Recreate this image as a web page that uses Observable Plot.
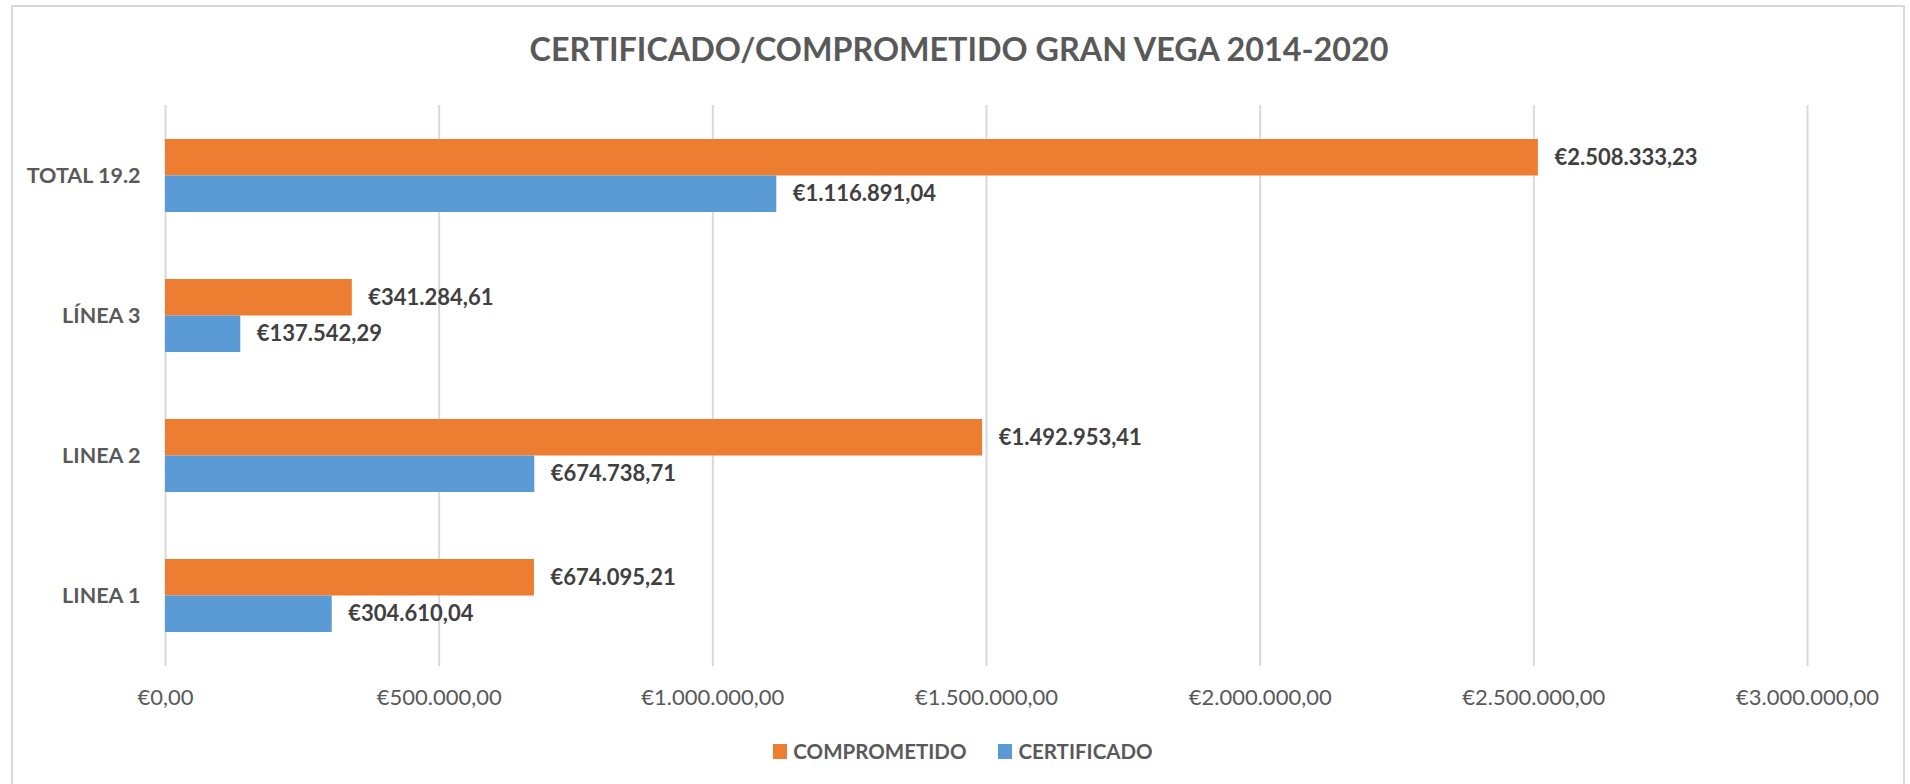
<!DOCTYPE html>
<html>
<head>
<meta charset="utf-8">
<script src="https://cdn.jsdelivr.net/npm/d3@7"></script>
<script src="https://cdn.jsdelivr.net/npm/@observablehq/plot@0.6"></script>
<style>
  html, body { margin: 0; padding: 0; background: #fff; overflow: hidden; }
  #wrap { position: relative; width: 1910px; height: 784px; font-family: Lato, "Open Sans", sans-serif; }
  #frame { position: absolute; left: 11px; top: 5px; width: 1894px; height: 800px; border: 2px solid #D9D9D9; box-sizing: border-box; }
  #title { position: absolute; left: 0; width: 1910px; top: 33px; text-align: center; font-size: 32.3px; line-height: 32px; font-weight: bold; color: #595959; padding-left: 8px; box-sizing: border-box; }
  #chart { position: absolute; left: 0; top: 0; }
  #legend { position: absolute; top: 739px; left: 0; width: 1910px; display: flex; justify-content: center; align-items: center; font-size: 20.5px; font-weight: bold; color: #595959; padding-left: 16px; box-sizing: border-box; }
  .item { display: flex; align-items: center; margin: 0 16px; }
  .sw { width: 14px; height: 15px; margin-right: 6px; }
</style>
</head>
<body>
<div id="wrap">
  <div id="frame"></div>
  <div id="title"></div>
  <div id="chart"></div>
  <div id="legend"></div>
</div>
<script>
// ---- data ----
const titleText = "CERTIFICADO/COMPROMETIDO GRAN VEGA 2014-2020";
const categories = ["TOTAL 19.2", "LÍNEA 3", "LINEA 2", "LINEA 1"];
const seriesNames = ["COMPROMETIDO", "CERTIFICADO"];
const seriesColors = ["#ED7D31", "#5B9BD5"];
const comprometido = [2508333.23, 341284.61, 1492953.41, 674095.21];
const certificado = [1116891.04, 137542.29, 674738.71, 304610.04];
const xTicks = [0, 500000, 1000000, 1500000, 2000000, 2500000, 3000000];

// ---- build ----
const locale = d3.formatLocale({decimal: ",", thousands: ".", grouping: [3], currency: ["€", ""]});
const fmt = locale.format("$,.2f");

const rowsComp = categories.map((c, i) => ({cat: c, value: comprometido[i]}));
const rowsCert = categories.map((c, i) => ({cat: c, value: certificado[i]}));

document.getElementById("title").textContent = titleText;

const W = 1910, H = 720;
const half = 36.5;

const chart = Plot.plot({
  width: W,
  height: H,
  marginTop: 105,
  marginBottom: 54,
  marginLeft: 165,
  marginRight: 103,
  style: {fontFamily: "Lato, 'Open Sans', sans-serif", color: "#595959", background: "transparent"},
  x: {domain: [0, 3000000], ticks: xTicks, tickFormat: fmt},
  y: {domain: categories, paddingInner: 0.4795, paddingOuter: 0.24, align: 0.5},
  marks: [
    Plot.gridX(xTicks, {stroke: "#D9D9D9", strokeOpacity: 1, strokeWidth: 2}),
    Plot.axisX(xTicks, {tickSize: 0, tickPadding: 23, fontSize: 22, tickFormat: fmt, label: null}),
    Plot.axisY({tickSize: 0, tickPadding: 25, fontSize: 21.5, fontWeight: "bold", label: null}),
    Plot.barX(rowsComp, {x: "value", y: "cat", fill: seriesColors[0], insetBottom: half}),
    Plot.barX(rowsCert, {x: "value", y: "cat", fill: seriesColors[1], insetTop: half}),
    Plot.text(rowsComp, {x: "value", y: "cat", text: d => fmt(d.value), textAnchor: "start", dx: 16, dy: -18, fontSize: 22, fontWeight: "bold", fill: "#404040"}),
    Plot.text(rowsCert, {x: "value", y: "cat", text: d => fmt(d.value), textAnchor: "start", dx: 16, dy: 18, fontSize: 22, fontWeight: "bold", fill: "#404040"})
  ]
});
document.getElementById("chart").appendChild(chart);

const legend = document.getElementById("legend");
seriesNames.forEach((name, i) => {
  const item = document.createElement("div");
  item.className = "item";
  const sw = document.createElement("div");
  sw.className = "sw";
  sw.style.background = seriesColors[i];
  const label = document.createElement("span");
  label.textContent = name;
  item.appendChild(sw);
  item.appendChild(label);
  legend.appendChild(item);
});
</script>
</body>
</html>
